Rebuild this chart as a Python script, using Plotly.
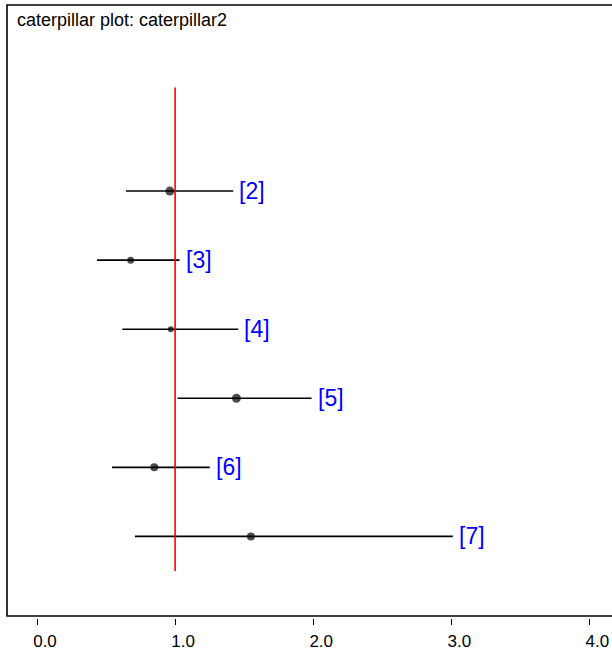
import plotly.graph_objects as go

# ---- data ----
labels = ["[2]", "[3]", "[4]", "[5]", "[6]", "[7]"]
rows = [2, 3, 4, 5, 6, 7]
means = [0.962, 0.678, 0.969, 1.444, 0.849, 1.549]
lower = [0.644, 0.435, 0.618, 1.018, 0.543, 0.709]
upper = [1.421, 1.032, 1.457, 1.988, 1.251, 3.011]
ref_value = 1.0
ref_span = [0.5, 7.5]
x_ticks = [0, 1, 2, 3, 4]
x_ticklabels = ["0.0", "1.0", "2.0", "3.0", "4.0"]
title_text = "caterpillar plot: caterpillar2"

# ---- style ----
dot_sizes = [9, 7, 6, 9, 8, 8]
W, H = 612, 652
FONT = "Arial, Liberation Sans, sans-serif"

fig = go.Figure()

# interval lines
for r, lo, hi in zip(rows, lower, upper):
    fig.add_trace(go.Scatter(x=[lo, hi], y=[r, r], mode="lines",
                             line=dict(color="black", width=1.6),
                             hoverinfo="skip", showlegend=False))

# reference line
fig.add_trace(go.Scatter(x=[ref_value, ref_value], y=ref_span, mode="lines",
                         line=dict(color="red", width=1.6),
                         hoverinfo="skip", showlegend=False))

# means
fig.add_trace(go.Scatter(x=means, y=rows, mode="markers",
                         marker=dict(color="black", size=dot_sizes,
                                     line=dict(width=0)),
                         showlegend=False))

# labels
for r, hi, lab in zip(rows, upper, labels):
    fig.add_annotation(x=hi, y=r, text=lab, showarrow=False,
                       xanchor="left", yanchor="middle", xshift=4,
                       font=dict(family=FONT, size=23, color="#0000FF"))

# title inside the box
fig.add_annotation(xref="paper", yref="paper", x=(15 - 7) / (W - 7), y=1,
                   yshift=-3, text=title_text, showarrow=False,
                   xanchor="left", yanchor="top",
                   font=dict(family=FONT, size=18, color="black"))

# plot area geometry: left 7, right 612, top 5, bottom 618
ml, mr, mt, mb = 7, 0, 5, 34
px_per_unit = 138.1
x0_px = 37.0
x_min = (ml - x0_px) / px_per_unit
x_max = (W - x0_px) / px_per_unit
row_px = 69.07
row1_px = 122.0
y_top = 1 + (mt - row1_px) / row_px
y_bot = 1 + ((H - mb) - row1_px) / row_px

# box (top, left, bottom) in paper coords; bottom sits 2px above axis
box_bottom = 2 / (H - mt - mb)
fig.add_shape(type="path", xref="paper", yref="paper",
              path=f"M 1.02 1 L 0 1 L 0 {box_bottom} L 1.02 {box_bottom}",
              line=dict(color="black", width=1.6))

fig.update_layout(
    width=W, height=H,
    margin=dict(l=ml, r=mr, t=mt, b=mb),
    plot_bgcolor="white", paper_bgcolor="white",
    xaxis=dict(range=[x_min, x_max], tickvals=x_ticks, ticktext=x_ticklabels,
               ticks="outside", ticklen=6, tickwidth=1, tickcolor="black",
               ticklabelshift=8, ticklabelstandoff=2,
               showgrid=False, zeroline=False, showline=False,
               tickfont=dict(family=FONT, size=17, color="black")),
    yaxis=dict(range=[y_bot, y_top], showticklabels=False, ticks="",
               showgrid=False, zeroline=False, showline=False),
)

fig.write_html("out.html", config={"displayModeBar": False},
               post_script="document.body.style.margin='0px';"
                           "document.body.style.overflow='hidden';")
